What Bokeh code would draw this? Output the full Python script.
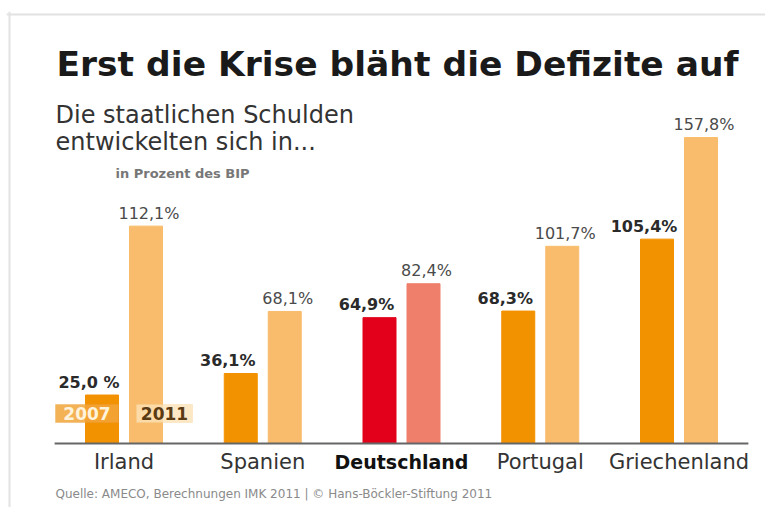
import numpy as np
from bokeh.plotting import figure
from bokeh.models import ColumnDataSource, Label, BoxAnnotation, Range1d, Span
from bokeh.core.properties import value
from bokeh.embed import file_html
from bokeh.resources import INLINE

# ---- data ----
countries = ["Irland", "Spanien", "Deutschland", "Portugal", "Griechenland"]
highlight = [False, False, True, False, False]
debt_2007 = [25.0, 36.1, 64.9, 68.3, 105.4]
debt_2011 = [112.1, 68.1, 82.4, 101.7, 157.8]
labels_2007 = ["25,0 %", "36,1%", "64,9%", "68,3%", "105,4%"]
labels_2011 = ["112,1%", "68,1%", "82,4%", "101,7%", "157,8%"]
colors_2007 = ["#F39200", "#F39200", "#E2001A", "#F39200", "#F39200"]
colors_2011 = ["#F9BC6C", "#F9BC6C", "#EF7F6A", "#F9BC6C", "#F9BC6C"]
years = ["2007", "2011"]

title_text = "Erst die Krise bläht die Defizite auf"
subtitle_1 = "Die staatlichen Schulden"
subtitle_2 = "entwickelten sich in..."
unit_text = "in Prozent des BIP"
source_text = "Quelle: AMECO, Berechnungen IMK 2011 | © Hans-Böckler-Stiftung 2011"

FONT = "DejaVu Sans"

# ---- layout constants (picture pixels) ----
W, H = 765, 507
BL, BT = 6, 11
FX0, FY0 = BL, BT
FW, FH = W - BL, H - BT
FY1 = FY0 + FH

PX_PER_UNIT = 1.939                # px per percent
PX_PER_CAT = 138.75
BASE_Y = 443
CAT0_X = 123.5
BAR_W_PX = 33
DODGE_PX = 22

y_start = -(FY1 - BASE_Y) / PX_PER_UNIT
y_end = (BASE_Y - FY0) / PX_PER_UNIT
x_start = -(CAT0_X - FX0) / PX_PER_CAT
x_end = x_start + FW / PX_PER_CAT

bar_w = BAR_W_PX / PX_PER_CAT
dodge = DODGE_PX / PX_PER_CAT


def dx(px):
    return x_start + (px - FX0) / PX_PER_CAT


def dy(py):
    return (BASE_Y - py) / PX_PER_UNIT


idx = np.arange(len(countries), dtype=float)

src07 = ColumnDataSource(dict(x=idx - dodge, top=debt_2007, color=colors_2007, lab=labels_2007))
src11 = ColumnDataSource(dict(x=idx + dodge, top=debt_2011, color=colors_2011, lab=labels_2011))

p = figure(width=W, height=H, output_backend="svg", toolbar_location=None,
           x_range=Range1d(x_start, x_end), y_range=Range1d(y_start, y_end),
           x_axis_type=None, y_axis_type=None,
           min_border_left=BL, min_border_top=BT, min_border_right=0, min_border_bottom=0)
p.grid.visible = False
p.background_fill_color = "white"
p.border_fill_color = "white"
p.outline_line_color = None

# frame border: top and left only, as in the reference
p.add_layout(Span(location=dy(14), dimension="width", line_color="#e2e2e2", line_width=2))
p.add_layout(Span(location=dx(9), dimension="height", line_color="#e2e2e2", line_width=2))

p.vbar(x="x", top="top", bottom=0, width=bar_w, color="color", source=src07)
p.vbar(x="x", top="top", bottom=0, width=bar_w, color="color", source=src11)

# baseline axis line across category bands
p.line(x=[idx[0] - 0.5, idx[-1] + 0.5], y=[0, 0], line_color="#666666", line_width=2)

# value labels (vertically centred 13px above bar tops)
p.text(x="x", y="top", text="lab", source=src07, text_align="center", text_baseline="middle",
       x_offset=-13, y_offset=-13, text_font=value(FONT), text_font_style="bold",
       text_font_size="16px", text_color="#2a2a2a")
p.text(x="x", y="top", text="lab", source=src11, text_align="center", text_baseline="middle",
       x_offset=3, y_offset=-13, text_font=value(FONT), text_font_style="normal",
       text_font_size="16px", text_color="#4a4a4a")

# category labels
reg = ColumnDataSource(dict(x=[i for i, h in zip(idx, highlight) if not h],
                            y=[0] * (len(countries) - sum(highlight)),
                            t=[c for c, h in zip(countries, highlight) if not h]))
bold = ColumnDataSource(dict(x=[i for i, h in zip(idx, highlight) if h],
                             y=[0] * sum(highlight),
                             t=[c for c, h in zip(countries, highlight) if h]))
p.text(x="x", y="y", text="t", source=reg, text_align="center", text_baseline="middle",
       y_offset=18, text_font=value(FONT), text_font_size="21px", text_color="#333333")
p.text(x="x", y="y", text="t", source=bold, text_align="center", text_baseline="middle",
       y_offset=18, text_font=value(FONT), text_font_style="bold", text_font_size="19px",
       text_color="#111111")


def add_label(text, px, py, size, color, style="normal", align="left"):
    p.add_layout(Label(x=dx(px), y=dy(py), text=text,
                       text_font=FONT, text_font_size=size, text_font_style=style,
                       text_color=color, text_align=align, text_baseline="middle"))


add_label(title_text, 56, 63, "34.5px", "#1a1a1a", "bold")
add_label(subtitle_1, 55, 114, "24px", "#333333")
add_label(subtitle_2, 55, 141, "24px", "#333333")
add_label(unit_text, 115, 173, "13px", "#777777", "bold")
add_label(source_text, 55, 493, "12px", "#8a8a8a")

# legend chips
p.add_layout(BoxAnnotation(left=dx(55), right=dx(118), top=dy(404), bottom=dy(422),
                           fill_color="#F2A53A", fill_alpha=0.85,
                           line_color="#E8A040", line_width=1))
p.add_layout(BoxAnnotation(left=dx(136), right=dx(192), top=dy(404), bottom=dy(422),
                           fill_color="#FCE2B8", fill_alpha=0.8,
                           line_color="#F6CC8A", line_width=1))
add_label(years[0], 86.5, 413, "17px", "#FFF3DC", "bold", "center")
add_label(years[1], 164, 413, "17px", "#5A3A12", "bold", "center")

open("out.html", "w").write(file_html(p, INLINE))
